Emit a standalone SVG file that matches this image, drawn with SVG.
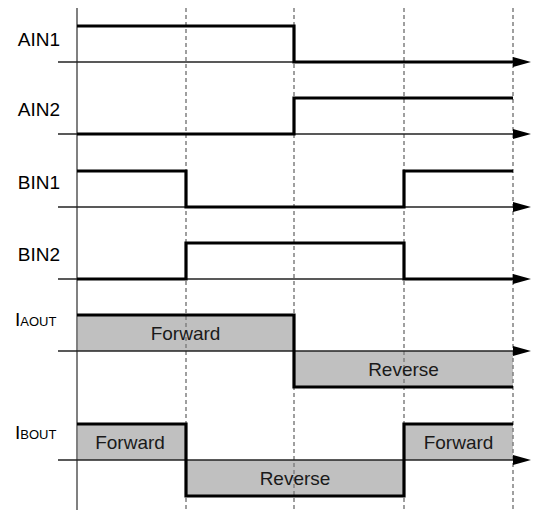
<svg xmlns="http://www.w3.org/2000/svg" width="533" height="512" viewBox="0 0 533 512">
  <style>
    .lbl { font-family: "Liberation Sans", Arial, sans-serif; font-size: 19px; fill: #000; }
    .sub { font-size: 13px; }
    .state { font-family: "Liberation Sans", Arial, sans-serif; font-size: 19px; fill: #1a1a1a; text-anchor: middle; }
    .grid { stroke: #808080; stroke-width: 1.5; stroke-dasharray: 4 3; fill: none; }
    .yaxis { stroke: #808080; stroke-width: 2; fill: none; }
    .base { stroke: #222; stroke-width: 1.3; fill: none; marker-end: url(#arrow); }
    .sig { stroke: #000; stroke-width: 3.2; fill: none; stroke-linejoin: miter; }
    .fill { fill: #c0c0c0; stroke: none; }
  </style>
  <defs>
    <marker id="arrow" viewBox="0 0 18 10" refX="0" refY="5" markerWidth="18" markerHeight="10" markerUnits="userSpaceOnUse" orient="auto">
      <path d="M0,0 L18,5 L0,10 z" fill="#000"/>
    </marker>
  </defs>

  <!-- current fills -->
  <g id="fills">
    <rect class="fill" x="77" y="315" width="217" height="36"/>
    <rect class="fill" x="294" y="351" width="219" height="36"/>
    <rect class="fill" x="77" y="424" width="109" height="36"/>
    <rect class="fill" x="186" y="460" width="218" height="36"/>
    <rect class="fill" x="404" y="424" width="109" height="36"/>
  </g>

  <!-- time grid -->
  <g id="grid">
    <line class="grid" x1="186" y1="8" x2="186" y2="512"/>
    <line class="grid" x1="294" y1="8" x2="294" y2="512"/>
    <line class="grid" x1="404" y1="8" x2="404" y2="512"/>
    <line class="grid" x1="513" y1="8" x2="513" y2="512"/>
    <line class="yaxis" x1="77" y1="8" x2="77" y2="510"/>
  </g>

  <!-- time axes -->
  <g id="connectors">
    <line class="base" x1="58" y1="62" x2="513" y2="62"/>
    <line class="base" x1="58" y1="134" x2="513" y2="134"/>
    <line class="base" x1="58" y1="207" x2="513" y2="207"/>
    <line class="base" x1="58" y1="279" x2="513" y2="279"/>
    <line class="base" x1="58" y1="351" x2="513" y2="351"/>
    <line class="base" x1="58" y1="460" x2="513" y2="460"/>
  </g>

  <g id="AIN1">
    <text class="lbl" x="60" y="45.5" text-anchor="end">AIN1</text>
    <path class="sig" d="M77,26 H294 V62 H513"/>
  </g>
  <g id="AIN2">
    <text class="lbl" x="60" y="116" text-anchor="end">AIN2</text>
    <path class="sig" d="M77,134 H294 V98 H513"/>
  </g>
  <g id="BIN1">
    <text class="lbl" x="60" y="188.5" text-anchor="end">BIN1</text>
    <path class="sig" d="M77,171 H186 V207 H404 V171 H513"/>
  </g>
  <g id="BIN2">
    <text class="lbl" x="60" y="261" text-anchor="end">BIN2</text>
    <path class="sig" d="M77,279 H186 V243 H404 V279 H513"/>
  </g>
  <g id="IAOUT">
    <text class="lbl" x="15" y="326">I<tspan class="sub">AOUT</tspan></text>
    <path class="sig" d="M77,315 H294 V387 H513"/>
    <text class="state" x="185.5" y="340">Forward</text>
    <text class="state" x="403.5" y="376">Reverse</text>
  </g>
  <g id="IBOUT">
    <text class="lbl" x="15" y="439">I<tspan class="sub">BOUT</tspan></text>
    <path class="sig" d="M77,424 H186 V496 H404 V424 H513"/>
    <text class="state" x="130" y="449">Forward</text>
    <text class="state" x="295" y="485">Reverse</text>
    <text class="state" x="458.5" y="449">Forward</text>
  </g>
</svg>
